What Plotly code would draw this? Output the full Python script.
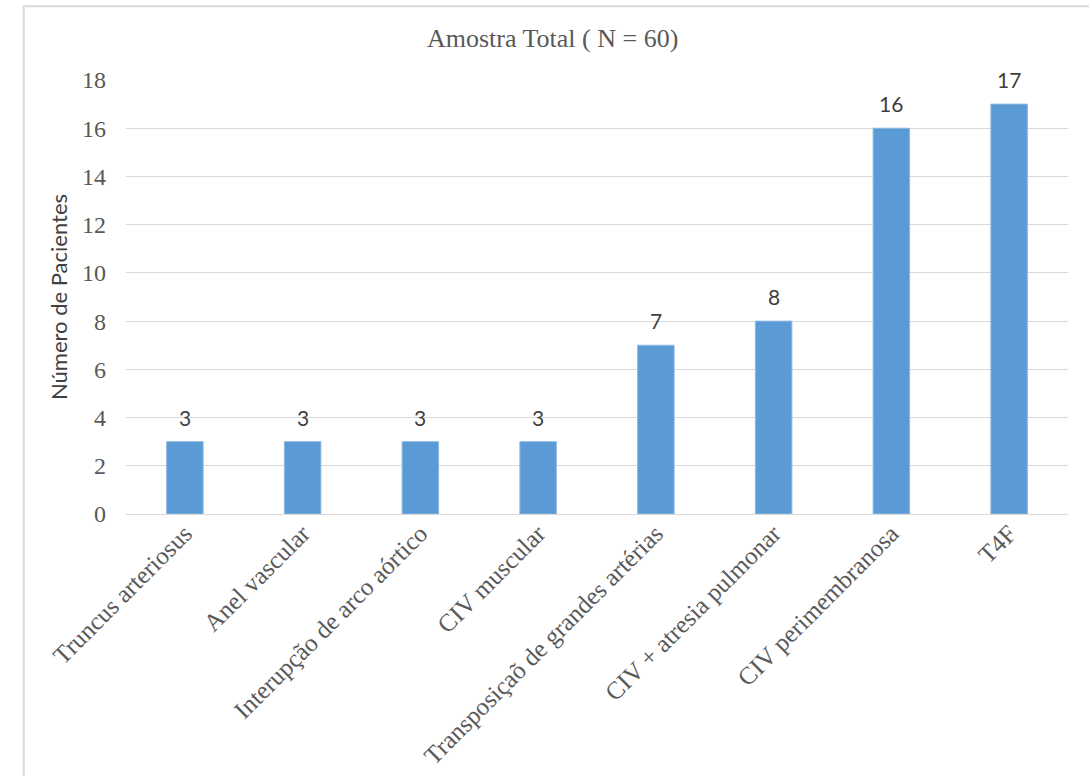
import plotly.graph_objects as go

categories = [
    "Truncus arteriosus",
    "Anel vascular",
    "Interupção de arco aórtico",
    "CIV muscular",
    "Transposiçaõ de grandes artérias",
    "CIV + atresia pulmonar",
    "CIV perimembranosa",
    "T4F",
]
values = [3, 3, 3, 3, 7, 8, 16, 17]
y_ticks = [0, 2, 4, 6, 8, 10, 12, 14, 16, 18]

title_text = "Amostra Total ( N = 60)"
y_title = "Número de Pacientes"

SERIF = "Liberation Serif, Times New Roman, serif"
SANS = "Lato, Open Sans, sans-serif"
GRAY = "#595959"

fig = go.Figure()
fig.add_trace(go.Bar(
    x=categories,
    y=values,
    marker=dict(color="#5B9BD5", line=dict(color="#8DB9E3", width=1)),
    width=0.31,
    hoverinfo="x+y",
))

for c, v in zip(categories, values):
    fig.add_annotation(
        x=c, y=v, text=str(v), showarrow=False,
        yanchor="bottom", yshift=10,
        font=dict(family=SANS, size=21, color="#404040"),
    )

fig.add_shape(
    type="rect", xref="paper", yref="paper",
    x0=-0.1085, x1=1.2, y0=-1.0, y1=1.17,
    line=dict(color="#d9d9d9", width=2),
    fillcolor="rgba(0,0,0,0)", layer="below",
)

fig.update_layout(
    width=1089, height=776,
    margin=dict(l=126, r=21, t=80, b=262),
    paper_bgcolor="white", plot_bgcolor="white",
    showlegend=False,
    title=dict(
        text=title_text, x=0.5075, xanchor="center", y=0.951, yanchor="middle",
        font=dict(family=SERIF, size=26, color=GRAY),
    ),
    xaxis=dict(
        tickangle=-45,
        tickfont=dict(family=SERIF, size=25, color=GRAY),
        showgrid=False,
        showline=True, linecolor="#d9d9d9", linewidth=1,
        ticks="", automargin=False, ticklabelstandoff=-6,
    ),
    yaxis=dict(
        range=[0, 18],
        tickvals=y_ticks,
        tickfont=dict(family=SERIF, size=24, color=GRAY),
        showgrid=True, gridcolor="#d9d9d9", gridwidth=1,
        zeroline=False, showline=False,
        ticks="", ticklabelstandoff=19, automargin=False,
        title=dict(text=y_title, font=dict(family=SANS, size=22, color="#404040"), standoff=8),
    ),
    bargap=0.69,
)

fig.write_html("out.html")
